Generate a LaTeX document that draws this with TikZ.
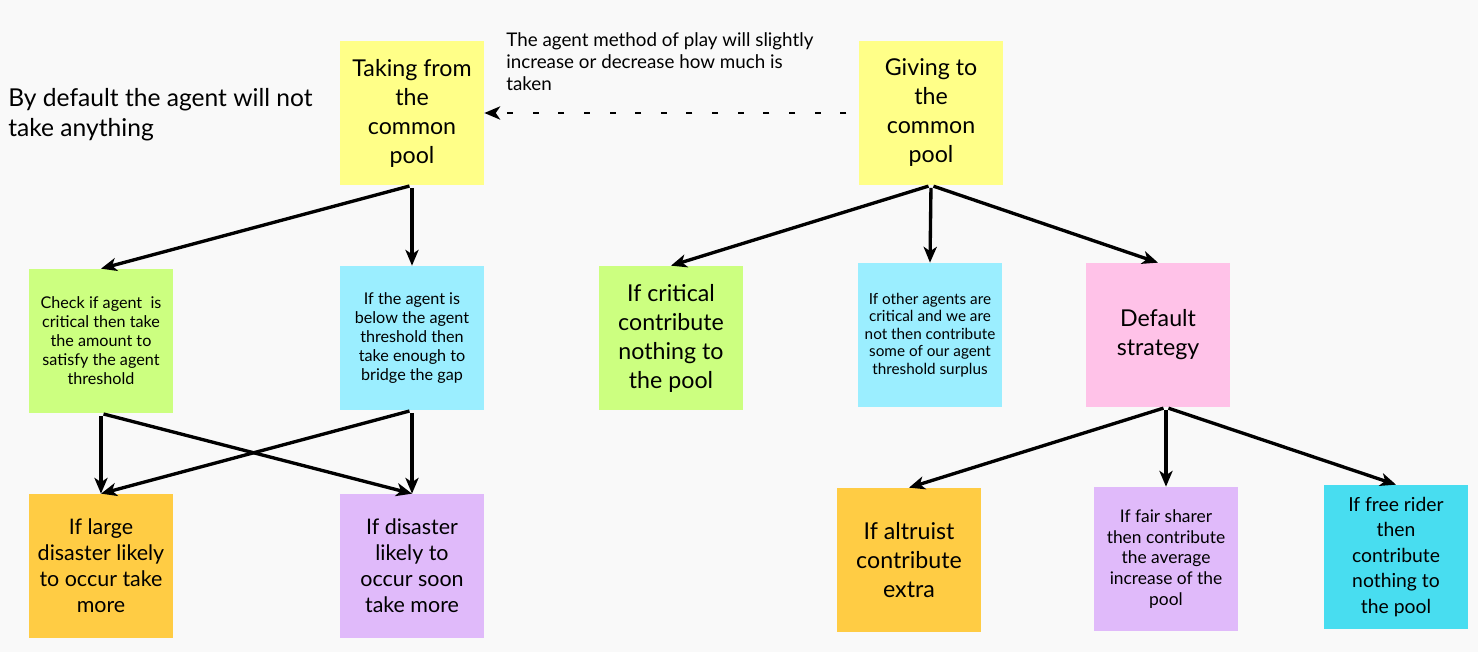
\documentclass[tikz,border=0pt]{standalone}
\usepackage{fontspec}
\setmainfont{Lato}
\usetikzlibrary{arrows.meta}

\definecolor{sheet}{HTML}{F9F9F9}
\definecolor{padyellow}{HTML}{FFFF88}
\definecolor{padgreen}{HTML}{CCFF80}
\definecolor{padcyan}{HTML}{9BEEFF}
\definecolor{padorange}{HTML}{FFCC44}
\definecolor{padpurple}{HTML}{E0BAFA}
\definecolor{padpink}{HTML}{FFC2E8}
\definecolor{padteal}{HTML}{48DDF0}

\tikzset{
  pad/.style={inner sep=0pt, minimum width=2.88cm, minimum height=2.88cm, align=center},
  bigtext/.style={font=\fontsize{13.2}{16.5}\selectfont},
  midtext/.style={font=\fontsize{12.2}{14.8}\selectfont},
  smalltext/.style={font=\fontsize{9.2}{10.8}\selectfont},
  link/.style={line width=1.9pt, -{Stealth[length=9pt,width=7.5pt,inset=2.5pt]}, shorten <=1.5pt},
}

\begin{document}
\begin{tikzpicture}[x=0.02cm,y=-0.02cm]
        \fill[sheet] (0,0) rectangle (1478,652);
        \useasboundingbox (0,0) rectangle (1478,652);
        % top row
        \node[pad,bigtext,fill=padyellow] (take) at (412,113) {Taking from\\the\\common\\pool};
        \node[pad,bigtext,fill=padyellow] (give) at (931,113) {Giving to\\the\\common\\pool};
        \node[anchor=north west,align=left,inner sep=0pt,font=\fontsize{14}{17}\selectfont] (nothing) at (8,88) {By default the agent will not\\take anything};
        \node[anchor=north west,align=left,inner sep=0pt,font=\fontsize{10.7}{12.5}\selectfont] (method) at (506,32) {The agent method of play will slightly\\increase or decrease how much is\\taken};
        % taking side
        \node[pad,smalltext,fill=padgreen] (check) at (101,341) {Check if agent\ \ is\\critical then take\\the amount to\\satisfy the agent\\threshold};
        \node[pad,smalltext,fill=padcyan] (below) at (412,338) {If the agent is\\below the agent\\threshold then\\take enough to\\bridge the gap};
        \node[pad,midtext,fill=padorange] (large) at (101,566) {If large\\disaster likely\\to occur take\\more};
        \node[pad,midtext,fill=padpurple] (soon) at (412,566) {If disaster\\likely to\\occur soon\\take more};
        % giving side
        \node[pad,bigtext,fill=padgreen] (crit) at (671,338) {If critical\\contribute\\nothing to\\the pool};
        \node[pad,font=\fontsize{8.7}{10}\selectfont,fill=padcyan] (other) at (930,335) {If other agents are\\critical and we are\\not then contribute\\some of our agent\\threshold surplus};
        \node[pad,bigtext,fill=padpink] (default) at (1158,335) {Default\\strategy};
        \node[pad,bigtext,fill=padorange] (altruist) at (909,560) {If altruist\\contribute\\extra};
        \node[pad,font=\fontsize{9.9}{11.9}\selectfont,fill=padpurple] (fair) at (1166,559) {If fair sharer\\then contribute\\the average\\increase of the\\pool};
        \node[pad,font=\fontsize{11}{14.5}\selectfont,fill=padteal] (rider) at (1396,557) {If free rider\\then\\contribute\\nothing to\\the pool};
        % connectors
        \draw[link,line width=1.7pt,shorten <=7pt,dash pattern=on 3.4pt off 11.2pt] (give.west) -- (take.east);
        \draw[link] (take.south) -- (check.north);
        \draw[link] (take.south) -- (below.north);
        \draw[link] (check.south) -- (large.north);
        \draw[link] (check.south) -- (soon.north);
        \draw[link] (below.south) -- (large.north);
        \draw[link] (below.south) -- (soon.north);
        \draw[link] (give.south) -- (crit.north);
        \draw[link] (give.south) -- (other.north);
        \draw[link] (give.south) -- (default.north);
        \draw[link] (default.south -| fair.north) -- (altruist.north);
        \draw[link] (default.south -| fair.north) -- (fair.north);
        \draw[link] (default.south -| fair.north) -- (rider.north);
    \end{tikzpicture}
\end{document}
